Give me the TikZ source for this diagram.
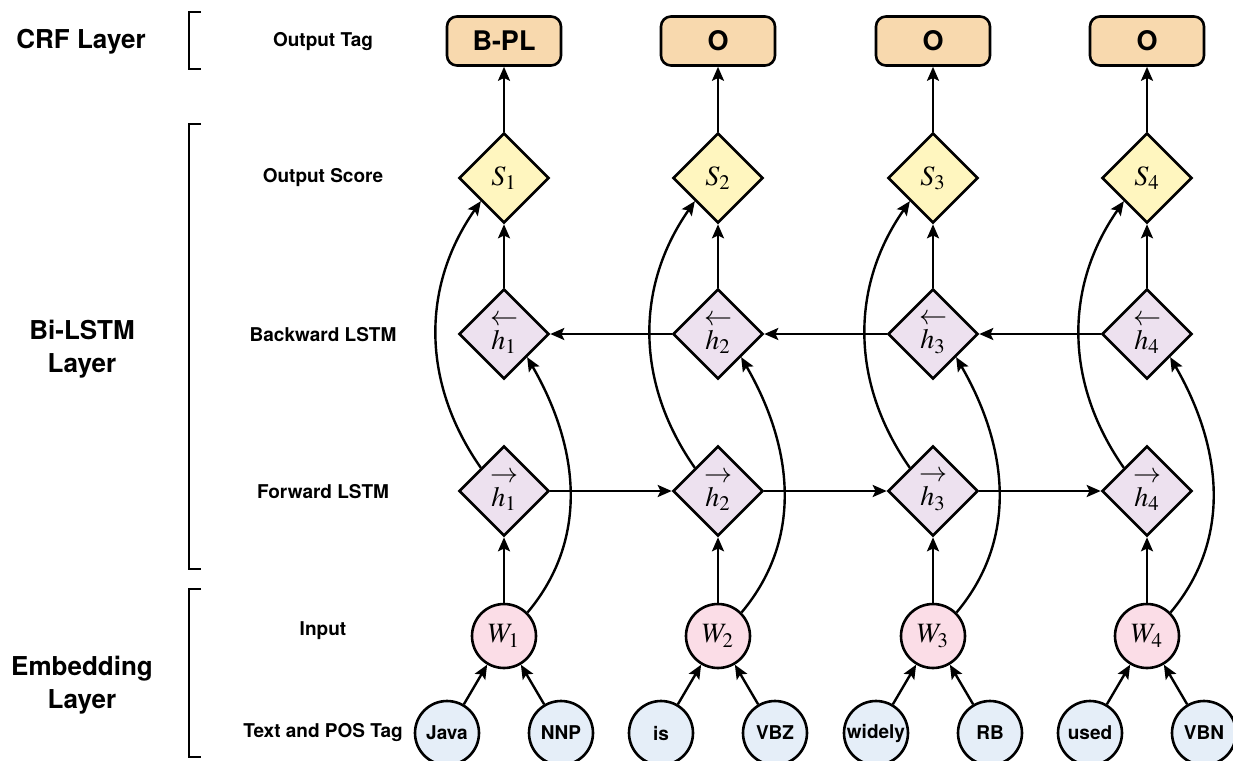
\documentclass[tikz,border=0pt]{standalone}
\usepackage{mathptmx}
\usepackage{fontspec}
\setmainfont{TeX Gyre Heros}
\usepackage{xcolor}
\usepackage{tikz}
\usetikzlibrary{shapes.geometric,arrows.meta}

\definecolor{tagfill}{HTML}{F8D9AE}
\definecolor{scorefill}{HTML}{FFF6BF}
\definecolor{hfill}{HTML}{EDE1EF}
\definecolor{wfill}{HTML}{FBDDE7}
\definecolor{leaffill}{HTML}{E5EEF8}

\newcommand{\hback}[1]{$\leftarrow$\\[-4pt]$h_{#1}$}
\newcommand{\hfwd}[1]{$\rightarrow$\\[-4pt]$h_{#1}$}

\tikzset{
  tagbox/.style={draw, line width=1.3pt, rounded corners=5pt, fill=tagfill, minimum width=57pt, minimum height=24.5pt, font=\bfseries\fontsize{13.5}{16}\selectfont},
  score/.style={diamond, draw, line width=1.3pt, fill=scorefill, minimum size=45pt, inner sep=0pt, font=\fontsize{14}{16}\selectfont},
  hstate/.style={score, fill=hfill, align=center},
  wnode/.style={circle, draw, line width=1.3pt, fill=wfill, minimum size=32pt, inner sep=0pt, font=\fontsize{14}{16}\selectfont},
  leaf/.style={circle, draw, line width=1.3pt, fill=leaffill, minimum size=32pt, inner sep=0pt, font=\bfseries\fontsize{9.5}{11}\selectfont},
  rowlabel/.style={font=\bfseries\fontsize{9.5}{11}\selectfont},
  layerlabel/.style={font=\bfseries\fontsize{13}{16.5}\selectfont, align=center},
  link/.style={-{Stealth[length=7pt,width=6pt,inset=1.4pt]}, line width=1.2pt},
  bracket/.style={line width=1.2pt}
}

\begin{document}
\begin{tikzpicture}[x=0.5pt, y=-0.5pt]
\useasboundingbox (0,0) rectangle (1233,761);

\node[layerlabel] (crf) at (81,42) {CRF Layer};
\node[layerlabel] (bilstm) at (82,349) {Bi-LSTM\\Layer};
\node[layerlabel] (embed) at (82,685) {Embedding\\Layer};
\draw[bracket] (201,12) -- (189,12) -- (189,69) -- (201,69);
\draw[bracket] (201,124) -- (189,124) -- (189,569) -- (201,569);
\draw[bracket] (201,589) -- (189,589) -- (189,757) -- (201,757);

\node[rowlabel] (lbltag) at (323,42) {Output Tag};
\node[rowlabel] (lblscore) at (323,178) {Output Score};
\node[rowlabel] (lblback) at (323,335) {Backward LSTM};
\node[rowlabel] (lblfwd) at (323,492) {Forward LSTM};
\node[rowlabel] (lblin) at (323,631) {Input};
\node[rowlabel] (lbltext) at (323,733) {Text and POS Tag};

% column 1
\node[tagbox] (tag1) at (504,41) {B-PL};
\node[score] (s1) at (504,178) {$S_1$};
\node[hstate] (bh1) at (504,334) {\hback{1}};
\node[hstate] (fh1) at (504,491) {\hfwd{1}};
\node[wnode] (w1) at (504,636) {$W_1$};
\node[leaf] (t1) at (447,733) {Java};
\node[leaf] (p1) at (561,733) {NNP};

% column 2
\node[tagbox] (tag2) at (718,41) {O};
\node[score] (s2) at (718,178) {$S_2$};
\node[hstate] (bh2) at (718,334) {\hback{2}};
\node[hstate] (fh2) at (718,491) {\hfwd{2}};
\node[wnode] (w2) at (718,636) {$W_2$};
\node[leaf] (t2) at (661,733) {is};
\node[leaf] (p2) at (775,733) {VBZ};

% column 3
\node[tagbox] (tag3) at (933,41) {O};
\node[score] (s3) at (933,178) {$S_3$};
\node[hstate] (bh3) at (933,334) {\hback{3}};
\node[hstate] (fh3) at (933,491) {\hfwd{3}};
\node[wnode] (w3) at (933,636) {$W_3$};
\node[leaf] (t3) at (876,733) {widely};
\node[leaf] (p3) at (990,733) {RB};

% column 4
\node[tagbox] (tag4) at (1147,41) {O};
\node[score] (s4) at (1147,178) {$S_4$};
\node[hstate] (bh4) at (1147,334) {\hback{4}};
\node[hstate] (fh4) at (1147,491) {\hfwd{4}};
\node[wnode] (w4) at (1147,636) {$W_4$};
\node[leaf] (t4) at (1090,733) {used};
\node[leaf] (p4) at (1204,733) {VBN};

\foreach \i in {1,2,3,4} {
  \draw[link] (t\i) -- (w\i);
  \draw[link] (p\i) -- (w\i);
  \draw[link] (w\i.north) -- (fh\i.south);
  \draw[link] (bh\i.north) -- (s\i.south);
  \draw[link] (s\i.north) -- (tag\i.south);
  \draw[link] (fh\i.north west) to[out=125, in=235] (s\i.south west);
  \draw[link] (w\i.north east) to[out=50, in=-60] (bh\i.south east);
}
\foreach \i/\j in {1/2,2/3,3/4} {
  \draw[link] (fh\i.east) -- (fh\j.west);
  \draw[link] (bh\j.west) -- (bh\i.east);
}

\end{tikzpicture}
\end{document}
